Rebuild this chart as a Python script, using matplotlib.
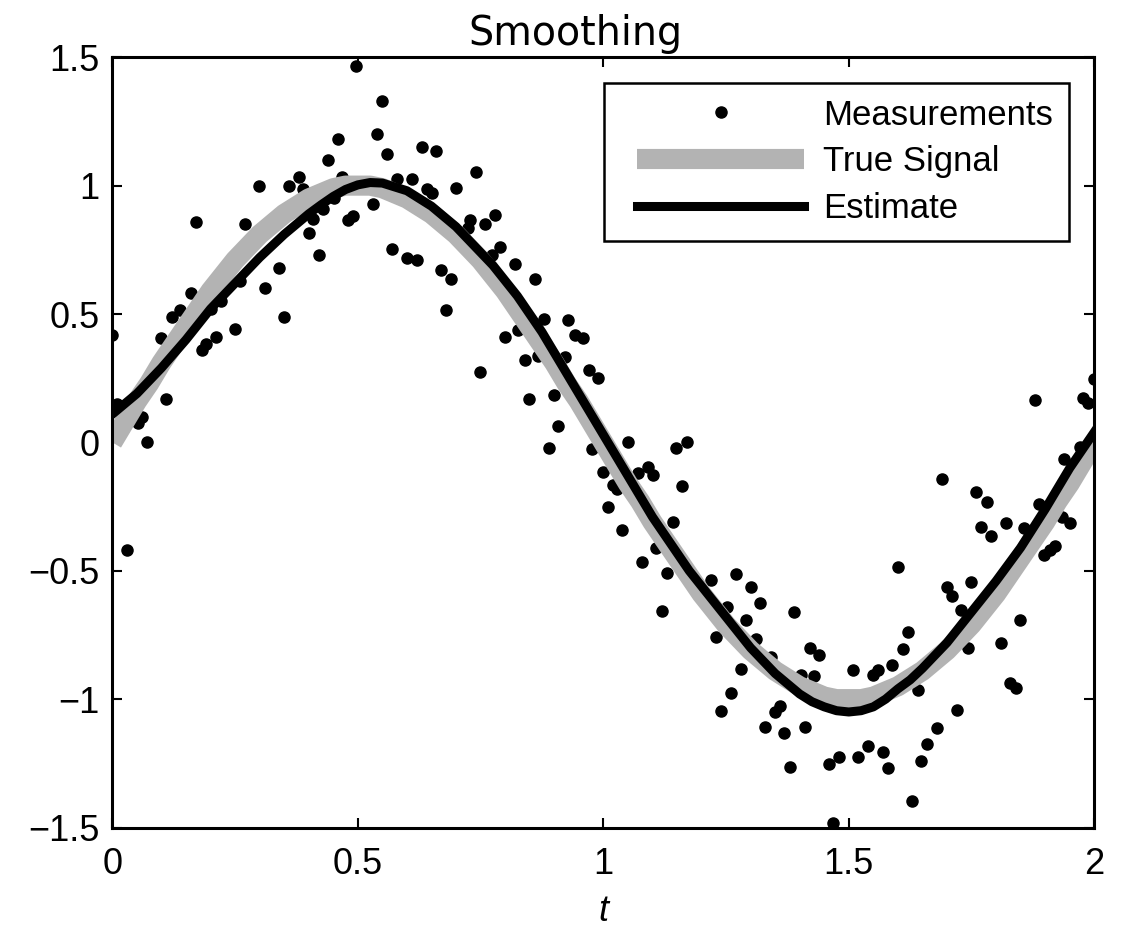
import matplotlib
matplotlib.use("Agg")
import matplotlib.pyplot as plt
from matplotlib.legend_handler import HandlerLine2D

t_meas = [0.000, 0.009, 0.060, 0.053, 0.070, 0.029, 0.109, 0.099, 0.121, 0.138,
          0.170, 0.160, 0.182, 0.190, 0.211, 0.201, 0.221, 0.260, 0.250, 0.270,
          0.299, 0.310, 0.340, 0.350, 0.360, 0.380, 0.389, 0.400, 0.409, 0.420,
          0.430, 0.440, 0.460, 0.452, 0.468, 0.479, 0.491, 0.496, 0.550, 0.540,
          0.560, 0.630, 0.659, 0.741, 0.610, 0.579, 0.640, 0.652, 0.699, 0.530,
          0.729, 0.724, 0.760, 0.780, 0.570, 0.600, 0.620, 0.669, 0.690, 0.680,
          0.773, 0.790, 0.820, 0.860, 0.880, 0.929, 0.942, 0.958, 0.800, 0.827,
          0.840, 0.866, 0.922, 0.749, 0.849, 0.900, 0.970, 0.990, 0.908, 0.889,
          0.977, 1.050, 1.000, 1.020, 1.027, 1.009, 1.039, 1.071, 1.092, 1.102,
          1.149, 1.170, 1.160, 1.141, 1.107, 1.079, 1.129, 1.119, 1.219, 1.251,
          1.229, 1.270, 1.300, 1.319, 1.290, 1.310, 1.389, 1.342, 1.280, 1.260,
          1.240, 1.421, 1.440, 1.403, 1.430, 1.350, 1.360, 1.329, 1.369, 1.410,
          1.380, 1.460, 1.468, 1.480, 1.519, 1.540, 1.570, 1.579, 1.629, 1.648,
          1.660, 1.680, 1.720, 1.640, 1.509, 1.550, 1.560, 1.589, 1.611, 1.620,
          1.601, 1.689, 1.700, 1.711, 1.749, 1.729, 1.742, 1.760, 1.781, 1.769,
          1.790, 1.820, 1.857, 1.810, 1.849, 1.828, 1.840, 1.887, 1.898, 1.910,
          1.920, 1.934, 1.950, 1.939, 1.971, 1.879, 1.978, 1.988, 2.000]
y_meas = [0.42, 0.15, 0.10, 0.075, 0.00, -0.42, 0.17, 0.405, 0.49, 0.515,
          0.86, 0.58, 0.36, 0.385, 0.41, 0.52, 0.55, 0.63, 0.44, 0.85,
          1.00, 0.60, 0.68, 0.49, 1.00, 1.035, 0.985, 0.815, 0.87, 0.73,
          0.91, 1.10, 1.18, 0.95, 1.035, 0.865, 0.88, 1.466, 1.33, 1.20,
          1.125, 1.15, 1.135, 1.055, 1.025, 1.025, 0.985, 0.97, 0.99, 0.93,
          0.865, 0.835, 0.85, 0.885, 0.755, 0.717, 0.71, 0.67, 0.635, 0.515,
          0.73, 0.76, 0.695, 0.635, 0.48, 0.475, 0.42, 0.405, 0.41, 0.437,
          0.32, 0.336, 0.333, 0.273, 0.17, 0.184, 0.28, 0.25, 0.065, -0.02,
          -0.025, 0.00, -0.117, -0.166, -0.183, -0.253, -0.34, -0.12, -0.095, -0.127,
          -0.023, 0.00, -0.17, -0.31, -0.41, -0.465, -0.508, -0.656, -0.536, -0.64,
          -0.757, -0.513, -0.565, -0.627, -0.692, -0.764, -0.66, -0.835, -0.884, -0.978,
          -1.046, -0.80, -0.83, -0.905, -0.91, -1.05, -1.026, -1.11, -1.13, -1.108,
          -1.266, -1.254, -1.484, -1.225, -1.225, -1.183, -1.205, -1.268, -1.396, -1.242,
          -1.176, -1.114, -1.043, -0.965, -0.887, -0.907, -0.887, -0.868, -0.806, -0.74,
          -0.485, -0.143, -0.563, -0.60, -0.545, -0.651, -0.802, -0.192, -0.231, -0.329,
          -0.365, -0.313, -0.335, -0.781, -0.69, -0.937, -0.958, -0.24, -0.439, -0.42,
          -0.404, -0.29, -0.313, -0.066, -0.017, 0.165, 0.171, 0.152, 0.245]

# both curves read every 0.025 along t
t_line = [0.000, 0.025, 0.050, 0.075, 0.100, 0.125, 0.150, 0.175, 0.200, 0.225,
          0.250, 0.275, 0.300, 0.325, 0.350, 0.375, 0.400, 0.425, 0.450, 0.475,
          0.500, 0.525, 0.550, 0.575, 0.600, 0.625, 0.650, 0.675, 0.700, 0.725,
          0.750, 0.775, 0.800, 0.825, 0.850, 0.875, 0.900, 0.925, 0.950, 0.975,
          1.000, 1.025, 1.050, 1.075, 1.100, 1.125, 1.150, 1.175, 1.200, 1.225,
          1.250, 1.275, 1.300, 1.325, 1.350, 1.375, 1.400, 1.425, 1.450, 1.475,
          1.500, 1.525, 1.550, 1.575, 1.600, 1.625, 1.650, 1.675, 1.700, 1.725,
          1.750, 1.775, 1.800, 1.825, 1.850, 1.875, 1.900, 1.925, 1.950, 1.975, 2.000]
true_signal = [0.00, 0.08, 0.16, 0.23, 0.31, 0.38, 0.45, 0.52, 0.59, 0.65,
               0.71, 0.76, 0.81, 0.85, 0.89, 0.92, 0.95, 0.97, 0.99, 1.00,
               1.00, 1.00, 0.99, 0.97, 0.95, 0.92, 0.89, 0.85, 0.81, 0.76,
               0.71, 0.65, 0.59, 0.52, 0.45, 0.38, 0.31, 0.23, 0.16, 0.08,
               0.00, -0.08, -0.16, -0.23, -0.31, -0.38, -0.45, -0.52, -0.59, -0.65,
               -0.71, -0.76, -0.81, -0.85, -0.89, -0.92, -0.95, -0.97, -0.99, -1.00,
               -1.00, -1.00, -0.99, -0.97, -0.95, -0.92, -0.89, -0.85, -0.81, -0.76,
               -0.71, -0.65, -0.59, -0.52, -0.45, -0.38, -0.31, -0.23, -0.16, -0.08, 0.00]
estimate = [0.11, 0.15, 0.19, 0.24, 0.29, 0.345, 0.40, 0.46, 0.52, 0.57,
            0.62, 0.67, 0.72, 0.765, 0.81, 0.85, 0.89, 0.925, 0.958, 0.985,
            1.003, 1.012, 1.01, 0.995, 0.98, 0.95, 0.92, 0.88, 0.84, 0.79,
            0.74, 0.69, 0.63, 0.57, 0.50, 0.43, 0.35, 0.27, 0.19, 0.11,
            0.03, -0.05, -0.13, -0.21, -0.29, -0.36, -0.43, -0.50, -0.56, -0.62,
            -0.68, -0.74, -0.80, -0.85, -0.90, -0.94, -0.98, -1.01, -1.03, -1.045,
            -1.05, -1.045, -1.03, -1.00, -0.96, -0.925, -0.88, -0.83, -0.78, -0.72,
            -0.66, -0.60, -0.54, -0.475, -0.41, -0.335, -0.26, -0.18, -0.10, -0.03, 0.04]

plt.rcParams['font.family'] = ['Liberation Sans', 'DejaVu Sans']

fig = plt.figure(figsize=(11.28, 9.34), dpi=100)
ax = fig.add_axes([0.0996, 0.114, 0.8705, 0.8247])

ax.plot(t_meas, y_meas, 'o', color='black', markersize=8, label='Measurements')
ax.plot(t_line, true_signal, color='#b3b3b3', linewidth=14.5, solid_capstyle='butt',
        solid_joinstyle='round', label='True Signal')
ax.plot(t_line, estimate, color='black', linewidth=6.5, solid_joinstyle='round',
        label='Estimate')

ax.set_xlim(0, 2)
ax.set_ylim(-1.5, 1.5)
ax.set_xticks([0, 0.5, 1, 1.5, 2])
ax.set_xticklabels(['0', '0.5', '1', '1.5', '2'])
ax.set_yticks([-1.5, -1, -0.5, 0, 0.5, 1, 1.5])
ax.set_yticklabels(['\u22121.5', '\u22121', '\u22120.5', '0', '0.5', '1', '1.5'])
ax.tick_params(direction='in', length=7, width=1.5, labelsize=26,
               top=True, right=True)
ax.tick_params(axis='x', pad=14)
ax.tick_params(axis='y', pad=9)
for s in ax.spines.values():
    s.set_linewidth(2.2)

ax.set_title('Smoothing', fontsize=28.5, family='DejaVu Sans', pad=9, x=0.472)
ax.set_xlabel('t', fontsize=26, style='italic', labelpad=9)

leg = ax.legend(loc='upper right', bbox_to_anchor=(0.974, 0.9667), borderaxespad=0,
                numpoints=1, fontsize=25, handlelength=5.3, handletextpad=0.55,
                labelspacing=0.4, borderpad=0.45, fancybox=False, framealpha=1,
                handler_map={matplotlib.lines.Line2D: HandlerLine2D(xpad=0.5)})
leg.get_frame().set_edgecolor('black')
leg.get_frame().set_linewidth(1.8)

fig.savefig('out.png', dpi=100)
